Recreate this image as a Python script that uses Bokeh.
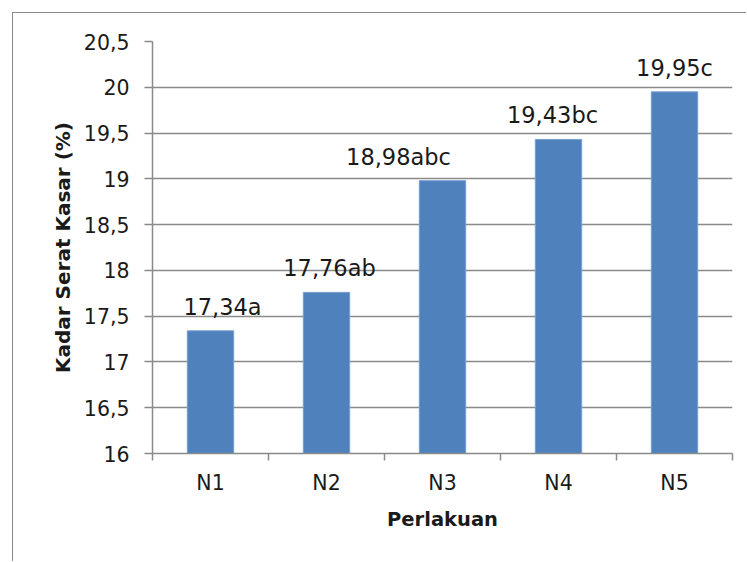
from bokeh.plotting import figure
from bokeh.models import ColumnDataSource, FixedTicker, CustomJSTickFormatter, Range1d
from bokeh.embed import file_html
from bokeh.resources import INLINE
from bokeh.core.properties import value

# Data
categories = ["N1", "N2", "N3", "N4", "N5"]
fiber = [17.34, 17.76, 18.98, 19.43, 19.95]
letters = ["a", "ab", "abc", "bc", "c"]
y_ticks = [16, 16.5, 17, 17.5, 18, 18.5, 19, 19.5, 20, 20.5]

# hand-placed horizontal nudges of the value labels (pixels)
label_nudge = [12, 3, -44, -6, 0]

FONT = "DejaVu Sans"
GRAY = "#8a8a8a"
BAR = "#4f81bd"
INK = "#1a1a1a"

xpos = [i + 0.5 for i in range(len(categories))]
labels = [f"{v:.2f}".replace(".", ",") + s for v, s in zip(fiber, letters)]
src = ColumnDataSource(dict(x=xpos, y=fiber, label=labels, dx=label_nudge))

# the chart area sits 12px in from the window, with a grey left/top border
OFF = 13
p = figure(width=747 - OFF, height=562 - OFF, output_backend="svg", toolbar_location=None,
           x_range=Range1d(0, len(categories)), y_range=Range1d(16, 20.5),
           min_border_left=152 - OFF, min_border_right=15, min_border_top=41 - OFF,
           min_border_bottom=109)
p.styles = {"position": "absolute", "left": "12px", "top": "12px",
            "border-left": f"1.5px solid {GRAY}", "border-top": f"1.5px solid {GRAY}"}
p.outline_line_color = None
p.background_fill_color = "white"
p.border_fill_color = "white"

p.vbar(x="x", top="y", bottom=16, width=0.4, source=src,
       fill_color=BAR, line_color="#7a9fd0", line_width=1)

p.text(x="x", y="y", text="label", source=src, text_align="center",
       text_baseline="alphabetic", x_offset="dx", y_offset=-24, text_font=value(FONT),
       text_font_size="22.5px", text_color=INK)

# y axis
p.yaxis.ticker = FixedTicker(ticks=y_ticks)
p.yaxis.formatter = CustomJSTickFormatter(code="return String(tick).replace('.', ',');")
p.yaxis.axis_line_color = GRAY
p.yaxis.axis_line_width = 1.5
p.yaxis.major_tick_line_color = GRAY
p.yaxis.major_tick_line_width = 1.5
p.yaxis.major_tick_out = 8
p.yaxis.major_tick_in = 0
p.yaxis.minor_tick_line_color = None
p.yaxis.major_label_standoff = 15
p.yaxis.major_label_text_font = FONT
p.yaxis.major_label_text_font_size = "20.5px"
p.yaxis.major_label_text_color = INK
p.yaxis.axis_label = "Kadar Serat Kasar (%)"
p.yaxis.axis_label_text_font = FONT
p.yaxis.axis_label_text_font_style = "bold"
p.yaxis.axis_label_text_font_size = "20px"
p.yaxis.axis_label_text_color = INK
p.yaxis.axis_label_standoff = 6

# x axis: labels at bar centres, ticks at category boundaries
p.xaxis.ticker = FixedTicker(ticks=xpos, minor_ticks=list(range(len(categories) + 1)))
p.xaxis.formatter = CustomJSTickFormatter(args=dict(names=categories),
                                          code="return names[Math.floor(tick)];")
p.xaxis.axis_line_color = GRAY
p.xaxis.axis_line_width = 1.5
p.xaxis.major_tick_line_color = None
p.xaxis.major_tick_out = 0
p.xaxis.major_tick_in = 0
p.xaxis.minor_tick_line_color = GRAY
p.xaxis.minor_tick_line_width = 1.5
p.xaxis.minor_tick_out = 7
p.xaxis.minor_tick_in = 0
p.xaxis.major_label_standoff = 10
p.xaxis.major_label_text_font = FONT
p.xaxis.major_label_text_font_size = "20.5px"
p.xaxis.major_label_text_color = INK
p.xaxis.axis_label = "Perlakuan"
p.xaxis.axis_label_text_font = FONT
p.xaxis.axis_label_text_font_style = "bold"
p.xaxis.axis_label_text_font_size = "19.5px"
p.xaxis.axis_label_text_color = INK
p.xaxis.axis_label_standoff = 10

p.xgrid.grid_line_color = None
p.ygrid.ticker = FixedTicker(ticks=y_ticks)
p.ygrid.grid_line_color = GRAY
p.ygrid.grid_line_width = 1.5

open("out.html", "w").write(file_html(p, INLINE))
